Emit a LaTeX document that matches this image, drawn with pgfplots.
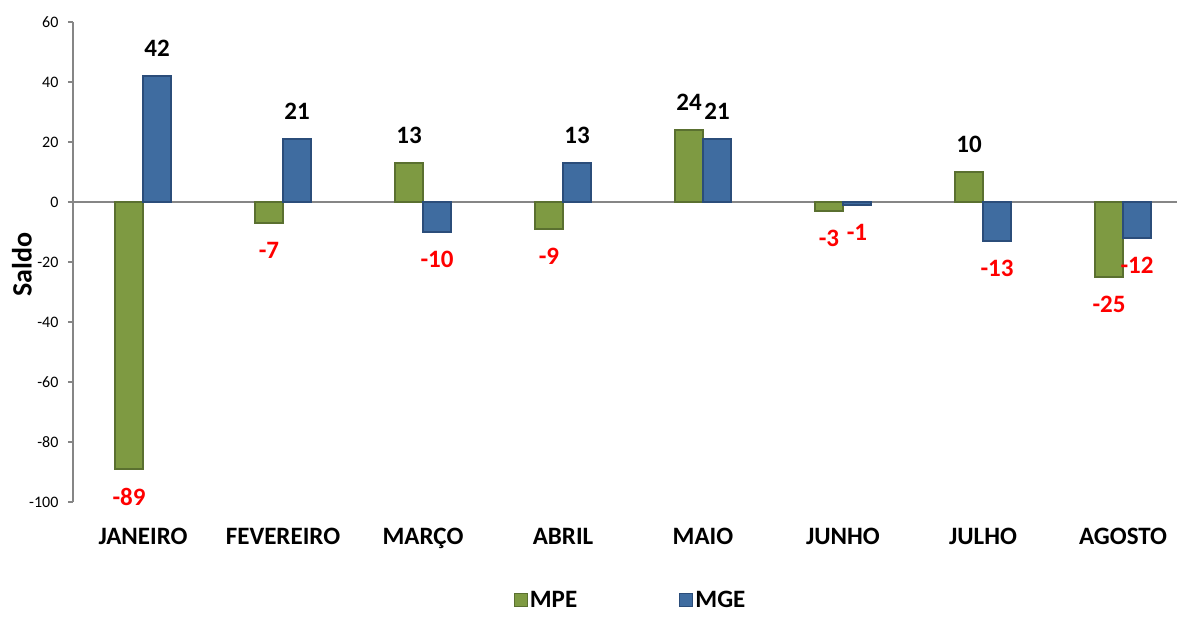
\documentclass[border=0pt]{standalone}
\usepackage{fontspec}
\setmainfont{Carlito}
\usepackage{pgfplots}
\pgfplotsset{compat=1.18}

\definecolor{mpe}{HTML}{7E9A42}
\definecolor{mpedark}{HTML}{5A7030}
\definecolor{mge}{HTML}{3F6CA0}
\definecolor{mgedark}{HTML}{2B4D7A}
\definecolor{axisgray}{HTML}{868686}

\pgfplotstableread{
x  mpe  mge
0  -89  42
1  -7   21
2  13   -10
3  -9   13
4  24   21
5  -3   -1
6  10   -13
7  -25  -12
}\saldo

\begin{document}
\begin{tikzpicture}
\path[use as bounding box] (0,0) rectangle (1177pt,619pt);
\begin{axis}[
    at={(73pt,117pt)}, anchor=south west,
    scale only axis,
    width=1104pt, height=480pt,
    xmin=-0.5, xmax=7.386,
    ymin=-100, ymax=60,
    ybar=0pt,
    bar width=28pt,
    axis lines*=left,
    separate axis lines,
    x axis line style={draw=none},
    y axis line style={axisgray, line width=1.8pt},
    xtick={0,...,7},
    xticklabels={JANEIRO, FEVEREIRO, MARÇO, ABRIL, MAIO, JUNHO, JULHO, AGOSTO},
    xtick style={draw=none},
    xticklabel style={font=\bfseries\fontsize{25}{28}\selectfont, anchor=north, yshift=-18pt},
    ytick={-100,-80,...,60},
    ytick style={axisgray, line width=1.5pt},
    tick align=outside,
    major tick length=5pt,
    yticklabel style={font=\fontsize{16}{18}\selectfont, xshift=-6pt},
    /pgf/number format/assume math mode=true,
    extra y ticks={0},
    extra y tick labels={},
    extra y tick style={grid=major, major grid style={axisgray, line width=1.8pt}},
    ylabel={Saldo},
    every axis y label/.style={at={(axis description cs:-0.0462,0.494)}, rotate=90, anchor=center,
        font=\bfseries\fontsize{28}{32}\selectfont},
    nodes near coords={\pgfmathfloatifflags{\pgfplotspointmeta}{2}{\color{red}}{}\pgfmathprintnumber{\pgfplotspointmeta}},
    every node near coord/.append style={font=\bfseries\fontsize{25}{28}\selectfont, inner ysep=19pt},
    legend style={at={(axis description cs:0.505,-0.205)}, anchor=center, draw=none, fill=none,
        legend columns=2, font=\bfseries\fontsize{25}{28}\selectfont,
        /tikz/every even column/.append style={column sep=100pt}},
    clip=false,
]
\addplot[fill=mpe, draw=mpedark, line width=1.2pt,
    legend image code/.code={\fill[mpe, draw=mpedark] (0pt,-6pt) rectangle (13pt,7pt);}]
    table[x=x, y=mpe] {\saldo};
\addplot[fill=mge, draw=mgedark, line width=1.2pt,
    legend image code/.code={\fill[mge, draw=mgedark] (0pt,-6pt) rectangle (13pt,7pt);}]
    table[x=x, y=mge] {\saldo};
\legend{MPE, MGE}
\end{axis}
\end{tikzpicture}
\end{document}
